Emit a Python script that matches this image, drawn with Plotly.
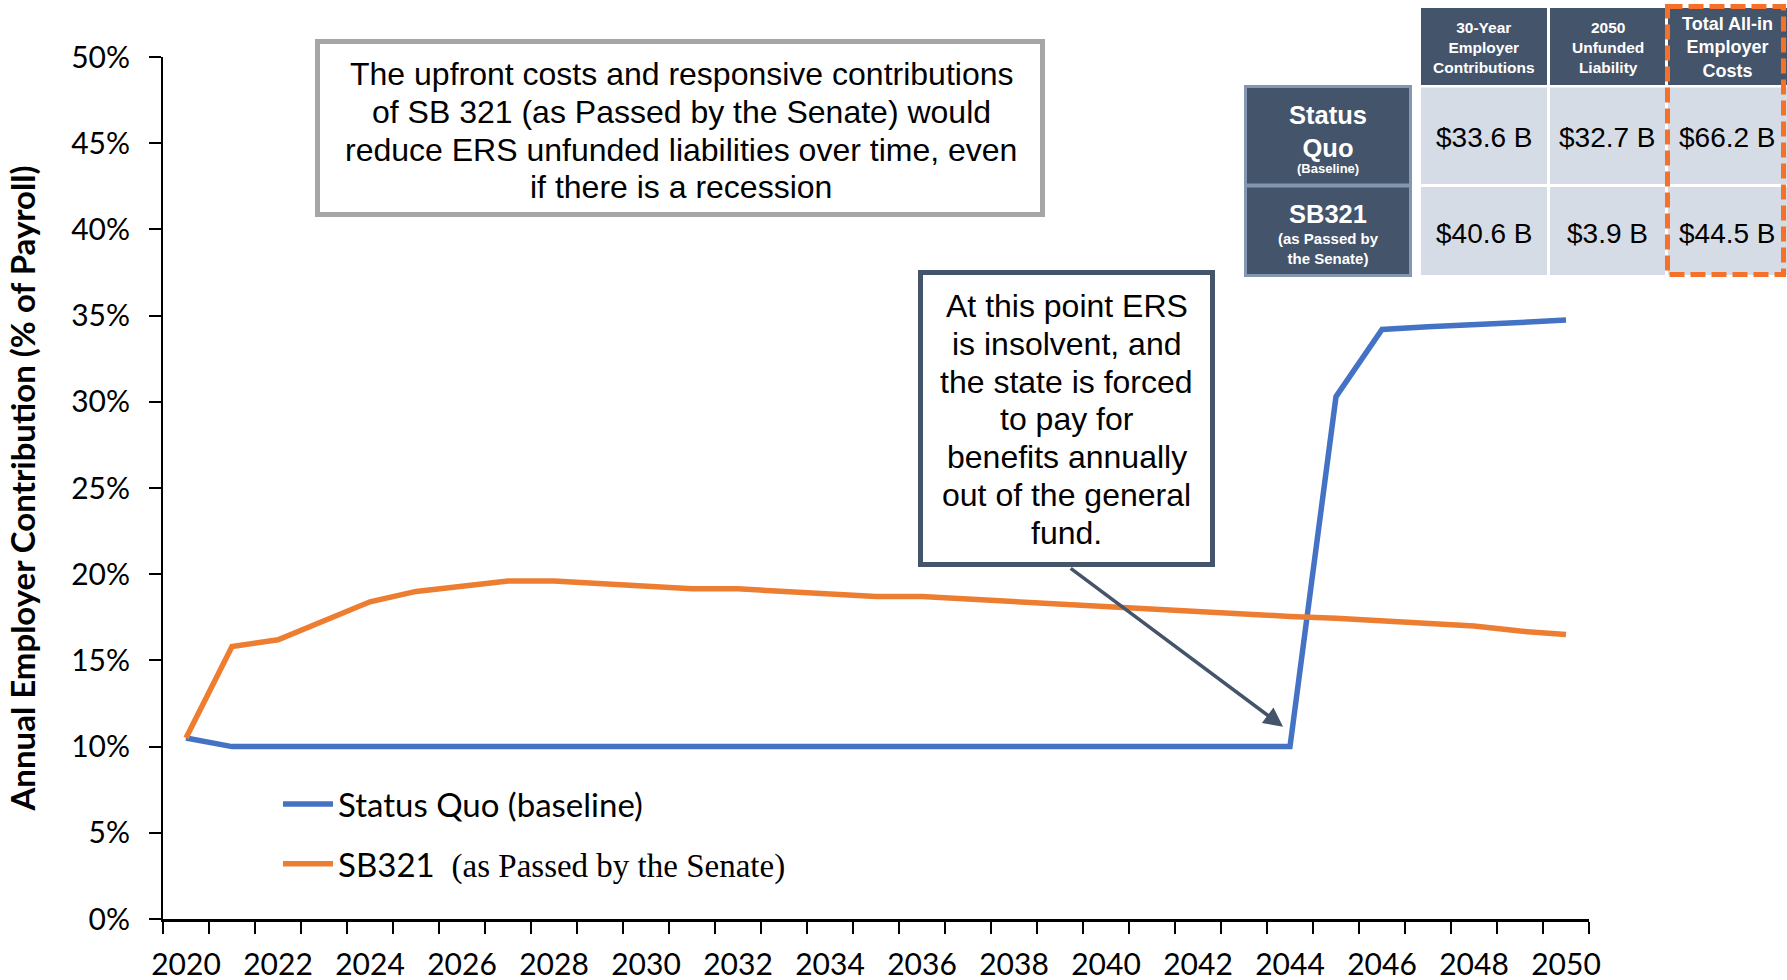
import plotly.graph_objects as go

# ---------------- data ----------------
years = [2020, 2021, 2022, 2023, 2024, 2025, 2026, 2027, 2028, 2029, 2030,
         2031, 2032, 2033, 2034, 2035, 2036, 2037, 2038, 2039, 2040,
         2041, 2042, 2043, 2044, 2045, 2046, 2047, 2048, 2049, 2050]

status_quo = [10.5, 10.0, 10.0, 10.0, 10.0, 10.0, 10.0, 10.0, 10.0, 10.0, 10.0,
              10.0, 10.0, 10.0, 10.0, 10.0, 10.0, 10.0, 10.0, 10.0, 10.0,
              10.0, 10.0, 10.0, 10.0, 30.3, 34.2, 34.35, 34.45, 34.6, 34.75]

sb321 = [10.5, 15.8, 16.2, 17.3, 18.4, 19.0, 19.3, 19.6, 19.6, 19.45, 19.3,
         19.15, 19.15, 19.0, 18.85, 18.7, 18.7, 18.55, 18.4, 18.25, 18.1,
         18.0, 17.85, 17.7, 17.55, 17.45, 17.3, 17.15, 17.0, 16.7, 16.5]

series_names = ["Status Quo (baseline)",
                "SB321\u00a0\u00a0<span style=\"font-family:'Liberation Serif';font-size:33px\">(as Passed by the Senate)</span>"]

x_tick_years = [2020, 2022, 2024, 2026, 2028, 2030, 2032, 2034, 2036, 2038,
                2040, 2042, 2044, 2046, 2048, 2050]
y_ticks = [0, 5, 10, 15, 20, 25, 30, 35, 40, 45, 50]

table_headers = ["30-Year<br>Employer<br>Contributions",
                 "2050<br>Unfunded<br>Liability",
                 "Total All-in<br>Employer<br>Costs"]
table_row_titles = ["Status<br>Quo", "SB321"]
table_row_subtitles = ["(Baseline)", "(as Passed by<br>the Senate)"]
status_quo_costs = [33.6, 32.7, 66.2]
sb321_costs = [40.6, 3.9, 44.5]

note_top = ["The upfront costs and responsive contributions",
            "of SB 321 (as Passed by the Senate) would",
            "reduce ERS unfunded liabilities over time, even",
            "if there is a recession"]
note_insolvent = ["At this point ERS", "is insolvent, and", "the state is forced",
                  "to pay for", "benefits annually", "out of the general", "fund."]

# ---------------- geometry helpers ----------------
W, H = 1787, 980
L, R, T, B = 163, 198, 57, 61
PW, PH = W - L - R, H - T - B


def px(x):
    return (x - L) / PW


def py(y):
    return (H - B - y) / PH


BLUE = "#4472C4"
ORANGE = "#ED7D31"
DARK = "#44546A"
LIGHT = "#D6DCE5"
SANS = "Liberation Sans, Arial, sans-serif"

fig = go.Figure()
fig.add_trace(go.Scatter(x=years, y=status_quo, mode="lines", name=series_names[0],
                         legendgroup="a", line=dict(color=BLUE, width=5.5)))
fig.add_trace(go.Scatter(x=years, y=sb321, mode="lines", name=series_names[1],
                         legendgroup="b", line=dict(color=ORANGE, width=5.5)))

shapes = []
annotations = []

# ---- top note box ----
shapes.append(dict(type="rect", xref="paper", yref="paper",
                   x0=px(317.5), x1=px(1042.5), y0=py(41.5), y1=py(214.5),
                   line=dict(color="#A6A6A6", width=5), fillcolor="white", layer="above"))
for i, line in enumerate(note_top):
    annotations.append(dict(xref="paper", yref="paper", x=px(681), y=py(74 + 37.8 * i),
                            text=line, showarrow=False, xanchor="center", yanchor="middle",
                            font=dict(family=SANS, size=32, color="black")))

# ---- insolvency box ----
shapes.append(dict(type="rect", xref="paper", yref="paper",
                   x0=px(920.5), x1=px(1212.5), y0=py(272.5), y1=py(564.5),
                   line=dict(color=DARK, width=5), fillcolor="white", layer="above"))
for i, line in enumerate(note_insolvent):
    annotations.append(dict(xref="paper", yref="paper", x=px(1066.5), y=py(306 + 37.8 * i),
                            text=line, showarrow=False, xanchor="center", yanchor="middle",
                            font=dict(family=SANS, size=32, color="black")))

# arrow from the box to the insolvency point
annotations.append(dict(x=2043.85, y=11.15, ax=2039.2, ay=20.4, xref="x", yref="y",
                        axref="x", ayref="y", text="", showarrow=True, arrowhead=2,
                        arrowsize=1.1, arrowwidth=3.5, arrowcolor=DARK,
                        standoff=0, startstandoff=0))

# ---- table ----
col_x = [(1421, 1547), (1550, 1665), (1668, 1787)]
head_y = (8, 85)
row_y = [(87.5, 184), (187, 275)]

for j, (x0, x1) in enumerate(col_x):
    shapes.append(dict(type="rect", xref="paper", yref="paper", x0=px(x0), x1=px(x1),
                       y0=py(head_y[0]), y1=py(head_y[1]), line=dict(width=0),
                       fillcolor=DARK, layer="above"))
    for r, (y0, y1) in enumerate(row_y):
        shapes.append(dict(type="rect", xref="paper", yref="paper", x0=px(x0), x1=px(x1),
                           y0=py(y0), y1=py(y1), line=dict(width=0),
                           fillcolor=LIGHT, layer="above"))
    size = 18 if j == 2 else 15.5
    annotations.append(dict(xref="paper", yref="paper", x=px((x0 + x1) / 2),
                            y=py((head_y[0] + head_y[1]) / 2 + 1),
                            text="<b>" + table_headers[j] + "</b>", showarrow=False,
                            xanchor="center", yanchor="middle",
                            font=dict(family=SANS, size=size, color="white")))
    for r, vals in enumerate([status_quo_costs, sb321_costs]):
        annotations.append(dict(xref="paper", yref="paper", x=px((x0 + x1) / 2),
                                y=py((row_y[r][0] + row_y[r][1]) / 2 + 2),
                                text="${:.1f} B".format(vals[j]), showarrow=False,
                                xanchor="center", yanchor="middle",
                                font=dict(family=SANS, size=28, color="black")))

# row-title cells
shapes.append(dict(type="rect", xref="paper", yref="paper", x0=px(1244), x1=px(1412),
                   y0=py(85), y1=py(277), line=dict(width=0), fillcolor="#8497B0",
                   layer="above"))
for (y0, y1) in [(88, 183.5), (187.5, 274)]:
    shapes.append(dict(type="rect", xref="paper", yref="paper", x0=px(1247), x1=px(1409),
                       y0=py(y0), y1=py(y1), line=dict(width=0), fillcolor=DARK,
                       layer="above"))
annotations.append(dict(xref="paper", yref="paper", x=px(1328), y=py(131),
                        text="<b>" + table_row_titles[0] + "</b>", showarrow=False,
                        xanchor="center", yanchor="middle",
                        font=dict(family=SANS, size=25.5, color="white")))
annotations.append(dict(xref="paper", yref="paper", x=px(1328), y=py(168),
                        text="<b>" + table_row_subtitles[0] + "</b>", showarrow=False,
                        xanchor="center", yanchor="middle",
                        font=dict(family=SANS, size=13, color="white")))
annotations.append(dict(xref="paper", yref="paper", x=px(1328), y=py(214),
                        text="<b>" + table_row_titles[1] + "</b>", showarrow=False,
                        xanchor="center", yanchor="middle",
                        font=dict(family=SANS, size=25.5, color="white")))
annotations.append(dict(xref="paper", yref="paper", x=px(1328), y=py(248),
                        text="<b>" + table_row_subtitles[1] + "</b>", showarrow=False,
                        xanchor="center", yanchor="middle",
                        font=dict(family=SANS, size=15, color="white")))

# dashed highlight around total costs column
shapes.append(dict(type="rect", xref="paper", yref="paper", x0=px(1667.5), x1=px(1783.5),
                   y0=py(6.5), y1=py(274.5), line=dict(color="#F5712A", width=5, dash="15px,6px"),
                   fillcolor="rgba(0,0,0,0)", layer="above"))

fig.update_layout(
    width=W, height=H,
    margin=dict(l=L, r=R, t=T, b=B, pad=0, autoexpand=False),
    paper_bgcolor="white", plot_bgcolor="white",
    shapes=shapes, annotations=annotations,
    showlegend=True,
    legend=dict(x=px(278), y=py(776), xanchor="left", yanchor="top",
                font=dict(family="Lato", size=33, color="black"),
                bgcolor="rgba(0,0,0,0)", traceorder="grouped", tracegroupgap=14,
                itemwidth=50),
    xaxis=dict(range=[2019.5, 2050.5], tickmode="array", tickvals=x_tick_years,
               ticktext=[str(v) for v in x_tick_years], ticks="",
               ticklabelstandoff=17, automargin=False,
               tickfont=dict(family="Lato", size=30, color="black"),
               showline=True, linecolor="black", linewidth=2.5, showgrid=False,
               zeroline=False,
               minor=dict(tickmode="array",
                          tickvals=[v - 0.5 for v in years] + [years[-1] + 0.5],
                          ticks="outside", ticklen=12, tickwidth=2, tickcolor="black",
                          showgrid=False)),
    yaxis=dict(range=[0, 50], tickmode="array", tickvals=y_ticks,
               ticktext=[f"{v}%" for v in y_ticks], ticks="outside", ticklen=12,
               tickwidth=2, tickcolor="black", ticklabelstandoff=13, automargin=False,
               tickfont=dict(family="Lato", size=30, color="black"),
               showline=True, linecolor="black", linewidth=2, showgrid=False,
               zeroline=False,
               title=dict(text="Annual Employer Contribution (% of Payroll)", standoff=26,
                          font=dict(family="Lato", size=33, color="black", weight="bold"))),
)

fig.write_html("out.html")
